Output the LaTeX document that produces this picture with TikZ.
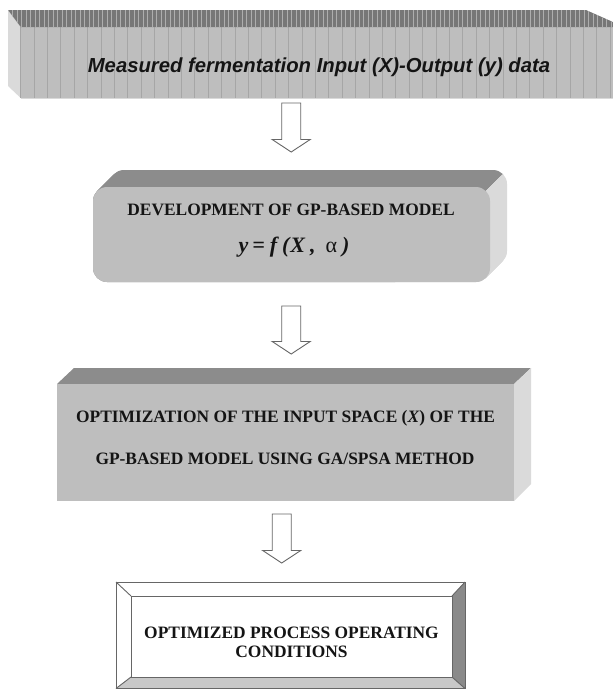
\documentclass[tikz,border=0pt]{standalone}
\usepackage{fontspec}
\setmainfont{Liberation Serif}
\newfontfamily\arialfont{Liberation Sans}
\definecolor{frontgray}{HTML}{BEBEBE}
\definecolor{topgray}{HTML}{8C8C8C}
\definecolor{sidegray}{HTML}{DADADA}
\definecolor{stripegray}{HTML}{A6A6A6}
\definecolor{linegray}{HTML}{666666}
\definecolor{bevellight}{HTML}{C8C8C8}
\definecolor{beveldark}{HTML}{8A8A8A}
\definecolor{inkblack}{HTML}{141414}
\tikzset{
  arrowline/.style={draw=linegray, line width=0.9pt, fill=white, line join=miter},
  serifcaps/.style={font=\bfseries\fontsize{17.4}{19}\selectfont, text=inkblack, inner sep=0pt},
  framelines/.style={draw=linegray, line width=0.9pt},
}
\newcommand\blkarrow[3]{%
  \draw[arrowline] (#1-9.5,#2) -- (#1+9.5,#2) -- (#1+9.5,#3-12.5) -- (#1+19,#3-12.5)
    -- (#1,#3) -- (#1-19,#3-12.5) -- (#1-9.5,#3-12.5) -- cycle;}
\begin{document}
\begin{tikzpicture}[x=1pt,y=-1pt]
\useasboundingbox (0,0) rectangle (613,689);
\fill[white] (0,0) rectangle (613,689);

% ---------- Box 1 ----------
\fill[sidegray] (8,10) -- (20.7,27) -- (20.7,98) -- (8,86) -- cycle;
\fill[frontgray] (20.7,27) rectangle (613,98);
\foreach \x in {20.7,34.1,...,613} \draw[stripegray, line width=0.9pt] (\x,27) -- (\x,98);
\begin{scope}
  \clip (8,10) -- (586,10) -- (613,22) -- (613,27) -- (20.7,27) -- cycle;
  \fill[topgray!85!black] (0,0) rectangle (613,30);
  \foreach \x in {8,12.5,...,613} \draw[topgray!70!white, line width=0.8pt] (\x,8) -- (\x,30);
\end{scope}
\draw[white!85!black, line width=0.6pt] (20.7,98) -- (613,98);
\node[font=\arialfont\bfseries\itshape\fontsize{20.3}{24}\selectfont, text=inkblack, inner sep=0pt]
  (b1) at (319,67) {Measured fermentation Input (X)-Output (y) data};

% ---------- Arrow 1 ----------
\blkarrow{291.2}{103}{152}

% ---------- Box 2 ----------
\begin{scope}
  \clip (0,0) -- (677,0) -- (0,677) -- cycle;
  \foreach \d in {0,0.5,...,17}
    \fill[topgray, rounded corners=14pt, shift={(\d,-\d)}] (93,187) rectangle (490,282);
\end{scope}
\begin{scope}
  \clip (677,0) -- (1000,0) -- (1000,1000) -- (0,1000) -- (0,677) -- cycle;
  \foreach \d in {0,0.5,...,17}
    \fill[sidegray, rounded corners=14pt, shift={(\d,-\d)}] (93,187) rectangle (490,282);
\end{scope}
\fill[frontgray, rounded corners=14pt] (93,187) rectangle (490,282);
\node[serifcaps] (b2) at (291,210) {DEVELOPMENT OF GP-BASED MODEL};
\node[font=\bfseries\itshape\fontsize{22}{24}\selectfont, text=inkblack, inner sep=0pt]
  (b2f) at (294,247) {y\hspace{4pt}=\hspace{5pt}f\hspace{5pt}(\hspace{1pt}X\hspace{5pt},\hspace{10pt}{\normalfont α}\hspace{5pt})};

% ---------- Arrow 2 ----------
\blkarrow{291.2}{306}{354}

% ---------- Box 3 ----------
\fill[topgray] (57,384) -- (74,368) -- (531,368) -- (514,384) -- cycle;
\fill[sidegray] (514,384) -- (531,368) -- (531,484) -- (514,501) -- cycle;
\fill[frontgray] (57,384) rectangle (514,501);
\node[serifcaps] (b3a) at (285.5,418) {OPTIMIZATION OF THE INPUT SPACE (\textit{X}) OF THE};
\node[serifcaps] (b3b) at (285,459) {GP-BASED MODEL USING GA/SPSA METHOD};

% ---------- Arrow 3 ----------
\blkarrow{281.7}{514}{563}

% ---------- Box 4 ----------
\fill[white] (116,582) rectangle (465,688.5);
\fill[bevellight] (116,688.5) -- (131,677) -- (452,677) -- (465,688.5) -- cycle;
\fill[beveldark] (465,582) -- (452,596) -- (452,677) -- (465,688.5) -- cycle;
\draw[framelines] (116,582) rectangle (465,688.5);
\draw[framelines] (131,596) rectangle (452,677);
\draw[framelines] (116,582) -- (131,596) (465,582) -- (452,596)
  (116,688.5) -- (131,677) (465,688.5) -- (452,677);
\node[serifcaps, align=center] (b4) at (291.5,642.5) {OPTIMIZED PROCESS OPERATING\\CONDITIONS};
\end{tikzpicture}
\end{document}
